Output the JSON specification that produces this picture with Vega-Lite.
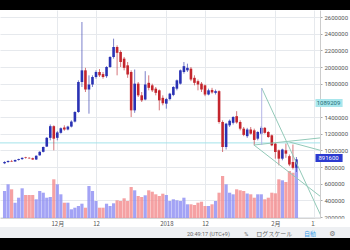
{
  "$schema": "https://vega.github.io/schema/vega-lite/v6.json",
  "width": 320,
  "height": 208,
  "autosize": {"type": "none"},
  "padding": {"left": 0, "top": 10, "right": 30, "bottom": 32},
  "background": "#ffffff",
  "config": {"view": {"stroke": null}, "font": "Roboto", "axis": {"labelOverlap": false}, "axisY": {"labelOverlap": false}, "axisRight": {"labelOverlap": false}},
  "datasets": {
    "one": [{}],
    "ohlc": [
      {"date": "2017-11-16", "open": 845000, "high": 870000, "low": 835000, "close": 860000, "volume": 27000},
      {"date": "2017-11-17", "open": 860000, "high": 880000, "low": 850000, "close": 872000, "volume": 33700},
      {"date": "2017-11-18", "open": 872000, "high": 885000, "low": 860000, "close": 866000, "volume": 28700},
      {"date": "2017-11-19", "open": 866000, "high": 890000, "low": 862000, "close": 884000, "volume": 15300},
      {"date": "2017-11-20", "open": 884000, "high": 900000, "low": 876000, "close": 895000, "volume": 20300},
      {"date": "2017-11-21", "open": 895000, "high": 915000, "low": 885000, "close": 910000, "volume": 29700},
      {"date": "2017-11-22", "open": 915000, "high": 922000, "low": 900000, "close": 908000, "volume": 23000},
      {"date": "2017-11-23", "open": 910000, "high": 918000, "low": 898000, "close": 904000, "volume": 23000},
      {"date": "2017-11-24", "open": 904000, "high": 912000, "low": 885000, "close": 890000, "volume": 23000},
      {"date": "2017-11-25", "open": 890000, "high": 940000, "low": 884000, "close": 935000, "volume": 18700},
      {"date": "2017-11-26", "open": 940000, "high": 990000, "low": 935000, "close": 982000, "volume": 27000},
      {"date": "2017-11-27", "open": 982000, "high": 1045000, "low": 975000, "close": 1040000, "volume": 25300},
      {"date": "2017-11-28", "open": 1045000, "high": 1160000, "low": 1040000, "close": 1150000, "volume": 20300},
      {"date": "2017-11-29", "open": 1150000, "high": 1310000, "low": 1120000, "close": 1290000, "volume": 21000},
      {"date": "2017-11-30", "open": 1290000, "high": 1300000, "low": 1000000, "close": 1140000, "volume": 38700},
      {"date": "2017-12-01", "open": 1150000, "high": 1230000, "low": 1120000, "close": 1215000, "volume": 33700},
      {"date": "2017-12-02", "open": 1210000, "high": 1275000, "low": 1200000, "close": 1265000, "volume": 23700},
      {"date": "2017-12-03", "open": 1275000, "high": 1300000, "low": 1235000, "close": 1250000, "volume": 15300},
      {"date": "2017-12-04", "open": 1250000, "high": 1295000, "low": 1240000, "close": 1285000, "volume": 15300},
      {"date": "2017-12-05", "open": 1285000, "high": 1360000, "low": 1275000, "close": 1345000, "volume": 8700},
      {"date": "2017-12-06", "open": 1345000, "high": 1470000, "low": 1335000, "close": 1460000, "volume": 10300},
      {"date": "2017-12-07", "open": 1460000, "high": 1840000, "low": 1450000, "close": 1820000, "volume": 12000},
      {"date": "2017-12-08", "open": 1820000, "high": 2540000, "low": 1760000, "close": 1960000, "volume": 14300},
      {"date": "2017-12-09", "open": 1960000, "high": 1990000, "low": 1700000, "close": 1730000, "volume": 10300},
      {"date": "2017-12-10", "open": 1730000, "high": 1900000, "low": 1440000, "close": 1790000, "volume": 32000},
      {"date": "2017-12-11", "open": 1790000, "high": 1900000, "low": 1760000, "close": 1880000, "volume": 27000},
      {"date": "2017-12-12", "open": 1880000, "high": 1960000, "low": 1860000, "close": 1940000, "volume": 17000},
      {"date": "2017-12-13", "open": 1940000, "high": 1975000, "low": 1880000, "close": 1900000, "volume": 10300},
      {"date": "2017-12-14", "open": 1915000, "high": 1940000, "low": 1860000, "close": 1880000, "volume": 10300},
      {"date": "2017-12-15", "open": 1890000, "high": 2010000, "low": 1870000, "close": 2000000, "volume": 14300},
      {"date": "2017-12-16", "open": 2000000, "high": 2130000, "low": 1990000, "close": 2120000, "volume": 12000},
      {"date": "2017-12-17", "open": 2120000, "high": 2340000, "low": 2100000, "close": 2240000, "volume": 14700},
      {"date": "2017-12-18", "open": 2240000, "high": 2260000, "low": 1900000, "close": 2170000, "volume": 17700},
      {"date": "2017-12-19", "open": 2180000, "high": 2200000, "low": 2000000, "close": 2060000, "volume": 17000},
      {"date": "2017-12-20", "open": 2100000, "high": 2120000, "low": 1960000, "close": 1990000, "volume": 19700},
      {"date": "2017-12-21", "open": 2020000, "high": 2060000, "low": 1870000, "close": 1910000, "volume": 17000},
      {"date": "2017-12-22", "open": 1940000, "high": 1960000, "low": 1400000, "close": 1480000, "volume": 31000},
      {"date": "2017-12-23", "open": 1480000, "high": 1970000, "low": 1450000, "close": 1800000, "volume": 27700},
      {"date": "2017-12-24", "open": 1800000, "high": 1820000, "low": 1640000, "close": 1660000, "volume": 22000},
      {"date": "2017-12-25", "open": 1660000, "high": 1700000, "low": 1580000, "close": 1600000, "volume": 21000},
      {"date": "2017-12-26", "open": 1610000, "high": 1950000, "low": 1600000, "close": 1790000, "volume": 22700},
      {"date": "2017-12-27", "open": 1810000, "high": 1900000, "low": 1720000, "close": 1750000, "volume": 27700},
      {"date": "2017-12-28", "open": 1780000, "high": 1800000, "low": 1700000, "close": 1720000, "volume": 26300},
      {"date": "2017-12-29", "open": 1740000, "high": 1760000, "low": 1660000, "close": 1690000, "volume": 23700},
      {"date": "2017-12-30", "open": 1720000, "high": 1730000, "low": 1480000, "close": 1600000, "volume": 22000},
      {"date": "2017-12-31", "open": 1630000, "high": 1660000, "low": 1540000, "close": 1565000, "volume": 24300},
      {"date": "2018-01-01", "open": 1560000, "high": 1630000, "low": 1500000, "close": 1615000, "volume": 23000},
      {"date": "2018-01-02", "open": 1615000, "high": 1690000, "low": 1600000, "close": 1680000, "volume": 17000},
      {"date": "2018-01-03", "open": 1665000, "high": 1770000, "low": 1650000, "close": 1760000, "volume": 18700},
      {"date": "2018-01-04", "open": 1740000, "high": 1850000, "low": 1720000, "close": 1840000, "volume": 17700},
      {"date": "2018-01-05", "open": 1800000, "high": 1970000, "low": 1790000, "close": 1960000, "volume": 17000},
      {"date": "2018-01-06", "open": 1940000, "high": 2060000, "low": 1920000, "close": 2010000, "volume": 20300},
      {"date": "2018-01-07", "open": 1960000, "high": 2040000, "low": 1940000, "close": 1990000, "volume": 13700},
      {"date": "2018-01-08", "open": 1980000, "high": 2000000, "low": 1830000, "close": 1850000, "volume": 13700},
      {"date": "2018-01-09", "open": 1870000, "high": 1900000, "low": 1780000, "close": 1810000, "volume": 13000},
      {"date": "2018-01-10", "open": 1830000, "high": 1850000, "low": 1720000, "close": 1790000, "volume": 15300},
      {"date": "2018-01-11", "open": 1800000, "high": 1820000, "low": 1700000, "close": 1730000, "volume": 16300},
      {"date": "2018-01-12", "open": 1780000, "high": 1790000, "low": 1650000, "close": 1670000, "volume": 12000},
      {"date": "2018-01-13", "open": 1670000, "high": 1740000, "low": 1660000, "close": 1720000, "volume": 12000},
      {"date": "2018-01-14", "open": 1725000, "high": 1750000, "low": 1680000, "close": 1695000, "volume": 13700},
      {"date": "2018-01-15", "open": 1690000, "high": 1730000, "low": 1670000, "close": 1710000, "volume": 17000},
      {"date": "2018-01-16", "open": 1710000, "high": 1720000, "low": 1320000, "close": 1340000, "volume": 25300},
      {"date": "2018-01-17", "open": 1340000, "high": 1360000, "low": 980000, "close": 1040000, "volume": 42000},
      {"date": "2018-01-18", "open": 1040000, "high": 1330000, "low": 1010000, "close": 1320000, "volume": 33700},
      {"date": "2018-01-19", "open": 1300000, "high": 1370000, "low": 1280000, "close": 1355000, "volume": 25300},
      {"date": "2018-01-20", "open": 1330000, "high": 1410000, "low": 1310000, "close": 1400000, "volume": 23700},
      {"date": "2018-01-21", "open": 1410000, "high": 1470000, "low": 1320000, "close": 1335000, "volume": 28700},
      {"date": "2018-01-22", "open": 1340000, "high": 1360000, "low": 1240000, "close": 1260000, "volume": 27700},
      {"date": "2018-01-23", "open": 1260000, "high": 1280000, "low": 1170000, "close": 1185000, "volume": 27000},
      {"date": "2018-01-24", "open": 1170000, "high": 1270000, "low": 1150000, "close": 1250000, "volume": 24500},
      {"date": "2018-01-25", "open": 1250000, "high": 1280000, "low": 1190000, "close": 1200000, "volume": 23700},
      {"date": "2018-01-26", "open": 1240000, "high": 1260000, "low": 1060000, "close": 1125000, "volume": 20300},
      {"date": "2018-01-27", "open": 1140000, "high": 1230000, "low": 1120000, "close": 1220000, "volume": 23700},
      {"date": "2018-01-28", "open": 1200000, "high": 1290000, "low": 1190000, "close": 1270000, "volume": 23700},
      {"date": "2018-01-29", "open": 1270000, "high": 1280000, "low": 1200000, "close": 1210000, "volume": 18700},
      {"date": "2018-01-30", "open": 1220000, "high": 1230000, "low": 1150000, "close": 1160000, "volume": 20300},
      {"date": "2018-01-31", "open": 1180000, "high": 1190000, "low": 1050000, "close": 1060000, "volume": 25300},
      {"date": "2018-02-01", "open": 1080000, "high": 1090000, "low": 900000, "close": 980000, "volume": 24700},
      {"date": "2018-02-02", "open": 1000000, "high": 1010000, "low": 820000, "close": 900000, "volume": 38700},
      {"date": "2018-02-03", "open": 900000, "high": 1020000, "low": 880000, "close": 1010000, "volume": 37700},
      {"date": "2018-02-04", "open": 1000000, "high": 1080000, "low": 910000, "close": 960000, "volume": 36000},
      {"date": "2018-02-05", "open": 930000, "high": 950000, "low": 810000, "close": 830000, "volume": 47000},
      {"date": "2018-02-06", "open": 860000, "high": 1070000, "low": 770000, "close": 790000, "volume": 45300},
      {"date": "2018-02-07", "open": 790000, "high": 920000, "low": 740000, "close": 891600, "volume": 50300}
    ],
    "lines": [
      {"kind": "fan", "t1": "2018-01-28T03:00:00Z", "p1": 1748000, "t2": "2018-02-15T00:40:00Z", "p2": 117200},
      {"kind": "fan", "t1": "2018-01-25T22:00:00Z", "p1": 1064000, "t2": "2018-02-15T00:40:00Z", "p2": 407000},
      {"kind": "fan", "t1": "2018-01-25T22:00:00Z", "p1": 1064000, "t2": "2018-02-15T00:40:00Z", "p2": 1155000},
      {"kind": "fan", "t1": "2018-02-05T00:15:00Z", "p1": 1100000, "t2": "2018-02-15T00:40:00Z", "p2": 986000},
      {"kind": "edge", "t1": "2018-01-28T03:00:00Z", "p1": 1748000, "t2": "2018-01-28T03:00:00Z", "p2": 1064000}
    ]
  },
  "resolve": {"scale": {"y": "independent"}},
  "layer": [
    {
      "data": {"name": "ohlc"},
      "mark": {"type": "bar", "size": 3.2, "clip": true, "opacity": 0.8},
      "encoding": {
        "x": {
          "field": "date", "type": "temporal",
          "scale": {"type": "utc", "domain": ["2017-11-16T02:58:00Z", "2018-02-12T06:40:00Z"]},
          "axis": {
            "title": null, "orient": "bottom",
            "values": [
              {"year": 2017, "month": 12, "date": 1, "utc": true},
              {"year": 2017, "month": 12, "date": 12, "utc": true},
              {"year": 2018, "month": 1, "date": 1, "utc": true},
              {"year": 2018, "month": 1, "date": 12, "utc": true},
              {"year": 2018, "month": 2, "date": 1, "utc": true},
              {"year": 2018, "month": 2, "date": 12, "utc": true}
            ],
            "labelExpr": "utcmonth(datum.value) == 0 && utcdate(datum.value) == 1 ? '2018' : utcdate(datum.value) == 1 ? (utcmonth(datum.value) + 1) + '月' : '' + utcdate(datum.value)",
            "labelFont": "Noto Sans CJK JP", "labelFontSize": 6, "labelColor": "#555555",
            "labelPadding": 2, "tickSize": 0, "domainColor": "#d4d4d4",
            "grid": true, "gridColor": "#e6e9ed", "labelOverlap": false, "labelFlush": false
          }
        },
        "y": {"field": "volume", "type": "quantitative", "scale": {"domain": [0, 208000], "nice": false}, "axis": null},
        "color": {"condition": {"test": "datum.close >= datum.open", "value": "#8c8cf2"}, "value": "#f28a8c"}
      }
    },
    {
      "layer": [
        {
          "data": {"name": "one"},
          "mark": {"type": "rule", "color": "#a4e3ea", "strokeWidth": 1, "clip": true},
          "encoding": {"y": {"datum": 1089209, "type": "quantitative", "scale": {"domain": [188000, 2684000], "nice": false, "zero": false},
            "axis": {
              "title": null, "orient": "right",
              "values": [200000, 400000, 600000, 800000, 1000000, 1200000, 1400000, 1600000, 1800000, 2000000, 2200000, 2400000, 2600000],
              "tickCount": 13,
              "format": "d", "labelExpr": "datum.value == 1600000 ? '' : datum.label",
              "labelFontSize": 6, "labelColor": "#555555", "labelPadding": 2, "labelOverlap": false, "labelSeparation": 0,
              "tickSize": 2, "tickColor": "#aaaaaa", "domainColor": "#cccccc",
              "grid": true, "gridColor": "#e6e9ed"
            }}}
        },
        {
          "data": {"name": "ohlc"},
          "mark": {"type": "rule", "strokeWidth": 0.9, "clip": true, "opacity": 0.75},
          "encoding": {
            "x": {"field": "date", "type": "temporal"},
            "y": {"field": "low", "type": "quantitative"},
            "y2": {"field": "high"},
            "color": {"condition": {"test": "datum.close >= datum.open", "value": "#3a41b0"}, "value": "#c0323a"}
          }
        },
        {
          "data": {"name": "ohlc"},
          "mark": {"type": "bar", "size": 2.6, "clip": true},
          "encoding": {
            "x": {"field": "date", "type": "temporal"},
            "y": {"field": "open", "type": "quantitative"},
            "y2": {"field": "close"},
            "color": {"condition": {"test": "datum.close >= datum.open", "value": "#2a32b4"}, "value": "#c4252d"}
          }
        },
        {
          "data": {"name": "lines"},
          "mark": {"type": "rule", "strokeWidth": 1, "clip": true},
          "encoding": {
            "x": {"field": "t1", "type": "temporal"},
            "x2": {"field": "t2"},
            "y": {"field": "p1", "type": "quantitative"},
            "y2": {"field": "p2"},
            "color": {"field": "kind", "type": "nominal", "scale": {"domain": ["fan", "edge"], "range": ["#92c9b8", "#b4b4e6"]}, "legend": null}
          }
        },
        {
          "data": {"name": "one"},
          "mark": {"type": "rect", "color": "#ffffff", "clip": false},
          "encoding": {
            "x": {"datum": {"year": 2018, "month": 2, "date": 12, "hours": 7, "utc": true}, "type": "temporal"},
            "x2": {"datum": {"year": 2018, "month": 3, "date": 1, "utc": true}},
            "y": {"datum": 180000, "type": "quantitative"},
            "y2": {"datum": 80000}
          }
        },
        {
          "data": {"name": "one"},
          "mark": {"type": "rect", "color": "#a8e6ec", "clip": false},
          "encoding": {
            "x": {"datum": {"year": 2018, "month": 2, "date": 12, "hours": 10, "utc": true}, "type": "temporal"},
            "x2": {"datum": {"year": 2018, "month": 2, "date": 20, "hours": 3, "utc": true}},
            "y": {"datum": 1616000, "type": "quantitative"},
            "y2": {"datum": 1520000}
          }
        },
        {
          "data": {"name": "one"},
          "mark": {"type": "text", "text": "1089209", "fontSize": 6, "color": "#1f6f78", "clip": false},
          "encoding": {
            "x": {"datum": {"year": 2018, "month": 2, "date": 16, "hours": 3, "utc": true}, "type": "temporal"},
            "y": {"datum": 1568000, "type": "quantitative"}
          }
        },
        {
          "data": {"name": "one"},
          "mark": {"type": "rect", "color": "#2c3ad0", "clip": false},
          "encoding": {
            "x": {"datum": {"year": 2018, "month": 2, "date": 12, "hours": 10, "utc": true}, "type": "temporal"},
            "x2": {"datum": {"year": 2018, "month": 2, "date": 20, "hours": 3, "utc": true}},
            "y": {"datum": 956000, "type": "quantitative"},
            "y2": {"datum": 860000}
          }
        },
        {
          "data": {"name": "one"},
          "mark": {"type": "text", "text": "891600", "fontSize": 6, "color": "#ffffff", "clip": false},
          "encoding": {
            "x": {"datum": {"year": 2018, "month": 2, "date": 16, "hours": 3, "utc": true}, "type": "temporal"},
            "y": {"datum": 908000, "type": "quantitative"}
          }
        },
        {
          "data": {"name": "one"},
          "mark": {"type": "rect", "color": "#eef0f3", "clip": false},
          "encoding": {
            "x": {"datum": {"year": 2017, "month": 11, "date": 1, "utc": true}, "type": "temporal"},
            "x2": {"datum": {"year": 2018, "month": 3, "date": 1, "utc": true}},
            "y": {"datum": 80000, "type": "quantitative"},
            "y2": {"datum": -52000}
          }
        },
        {
          "data": {"name": "one"},
          "mark": {"type": "rect", "color": "#000000", "clip": false},
          "encoding": {
            "x": {"datum": {"year": 2017, "month": 11, "date": 1, "utc": true}, "type": "temporal"},
            "x2": {"datum": {"year": 2018, "month": 3, "date": 1, "utc": true}},
            "y": {"datum": 2684000, "type": "quantitative"},
            "y2": {"datum": 3200000}
          }
        },
        {
          "data": {"name": "one"},
          "mark": {"type": "rect", "color": "#000000", "clip": false},
          "encoding": {
            "x": {"datum": {"year": 2017, "month": 11, "date": 1, "utc": true}, "type": "temporal"},
            "x2": {"datum": {"year": 2018, "month": 3, "date": 1, "utc": true}},
            "y": {"datum": -52000, "type": "quantitative"},
            "y2": {"datum": -700000}
          }
        },
        {
          "data": {"name": "one"},
          "mark": {"type": "text", "text": "20:49:17 (UTC+9)", "fontSize": 5.5, "color": "#666666", "clip": false},
          "encoding": {
            "x": {"datum": {"year": 2018, "month": 1, "date": 12, "hours": 23, "utc": true}, "type": "temporal"},
            "y": {"datum": -2000, "type": "quantitative"}
          }
        },
        {
          "data": {"name": "one"},
          "mark": {"type": "text", "text": "%", "fontSize": 5.5, "color": "#666666", "clip": false},
          "encoding": {
            "x": {"datum": {"year": 2018, "month": 1, "date": 23, "hours": 17, "utc": true}, "type": "temporal"},
            "y": {"datum": -2000, "type": "quantitative"}
          }
        },
        {
          "data": {"name": "one"},
          "mark": {"type": "text", "text": "ログスケール", "font": "Noto Sans CJK JP", "fontSize": 6, "color": "#666666", "clip": false},
          "encoding": {
            "x": {"datum": {"year": 2018, "month": 1, "date": 31, "hours": 17, "utc": true}, "type": "temporal"},
            "y": {"datum": -2000, "type": "quantitative"}
          }
        },
        {
          "data": {"name": "one"},
          "mark": {"type": "text", "text": "自動", "font": "Noto Sans CJK JP", "fontSize": 6, "color": "#3a9ee8", "clip": false},
          "encoding": {
            "x": {"datum": {"year": 2018, "month": 2, "date": 10, "hours": 21, "utc": true}, "type": "temporal"},
            "y": {"datum": -2000, "type": "quantitative"}
          }
        },
        {
          "data": {"name": "one"},
          "mark": {"type": "text", "text": "⚙", "font": "DejaVu Sans", "fontSize": 7, "color": "#777777", "clip": false},
          "encoding": {
            "x": {"datum": {"year": 2018, "month": 2, "date": 17, "hours": 6, "utc": true}, "type": "temporal"},
            "y": {"datum": -2000, "type": "quantitative"}
          }
        }
      ]
    }
  ]
}
